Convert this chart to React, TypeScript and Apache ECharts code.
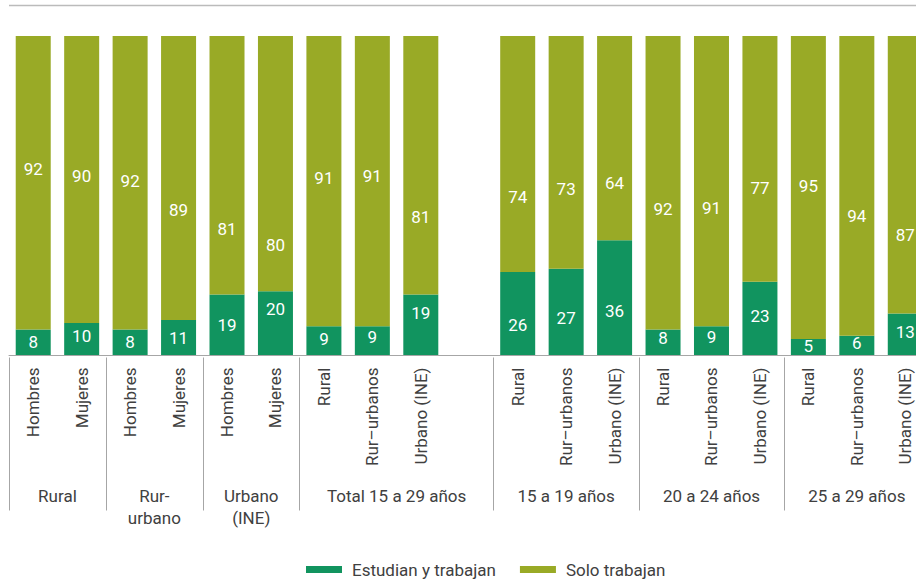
import React, { useEffect, useRef } from "react";
import * as echarts from "echarts";

// ---- data ----
const categories: string[] = [
  "Hombres", "Mujeres",
  "Hombres", "Mujeres",
  "Hombres", "Mujeres",
  "Rural", "Rur–urbanos", "Urbano (INE)",
  "",
  "Rural", "Rur–urbanos", "Urbano (INE)",
  "Rural", "Rur–urbanos", "Urbano (INE)",
  "Rural", "Rur–urbanos", "Urbano (INE)",
];
const groupNames: string[] = ["Rural", "Rur-\nurbano", "Urbano\n(INE)", "Total 15 a 29 años", "15 a 19 años", "20 a 24 años", "25 a 29 años"];
const groupStarts: number[] = [0, 2, 4, 6, 10, 13, 16];
const groupEnds: number[] = [2, 4, 6, 10, 13, 16, 19];
const seriesNames: string[] = ["Estudian y trabajan", "Solo trabajan"];
const estudianTrabajan: (number | null)[] = [8, 10, 8, 11, 19, 20, 9, 9, 19, null, 26, 27, 36, 8, 9, 23, 5, 6, 13];
const soloTrabajan: (number | null)[] = [92, 90, 92, 89, 81, 80, 91, 91, 81, null, 74, 73, 64, 92, 91, 77, 95, 94, 87];

// label nudges (style only, px)
const greenLabelDy: number[] = [0, -3, 0, 1, 0, -14, -2, -4, -12, 0, 11.5, 6, 13.5, -4.5, -4, -2.5, -1, -2, -2.5];
const oliveLabelDy: number[] = [-13.4, -3.6, -1.7, 32, 63.8, 81.4, -2.9, -5, 51.5, 0, 42.7, 36.9, 44.6, 26.6, 27.1, 28.9, -1.5, 30, 60.2];

const GREEN = "#11945f";
const OLIVE = "#99aa26";
const TEXT = "#404040";
const LINE = "#a6a6a6";
const FONT = "Roboto";

export default function App() {
  const ref = useRef<HTMLDivElement>(null);
  useEffect(() => {
    if (!ref.current) return;
    const chart = echarts.init(ref.current, null, { renderer: "svg" });

    const nPts = categories.length * 2 + 1;
    const groupAxisData: string[] = [];
    for (let i = 0; i < nPts; i++) groupAxisData.push("");
    groupNames.forEach((g, i) => {
      groupAxisData[groupStarts[i] + groupEnds[i]] = g;
    });
    const tickPts = new Set(groupStarts.map((s) => s * 2));

    const mk = (vals: (number | null)[], dys: number[]) =>
      vals.map((v, i) =>
        v == null ? "-" : { value: v, label: { offset: [0, dys[i]] } }
      );

    const option: any = {
      animation: false,
      textStyle: { fontFamily: FONT },
      grid: { left: 9, top: 36, width: 920.5, height: 319, containLabel: false, outerBoundsMode: "none" },
      legend: {
        data: seriesNames,
        left: 306,
        top: 561,
        padding: 0,
        icon: "rect",
        itemWidth: 36,
        itemHeight: 7,
        itemGap: 24,
        textStyle: { color: TEXT, fontSize: 17, fontFamily: FONT, padding: [0, 0, 0, 5] },
      },
      xAxis: [
        {
          type: "category",
          data: categories,
          position: "bottom",
          offset: 2.5,
          axisLine: { show: true, lineStyle: { color: LINE, width: 1 } },
          axisTick: { show: false },
          axisLabel: {
            interval: 0,
            rotate: 90,
            margin: 10,
            color: TEXT,
            fontSize: 17,
            fontFamily: FONT,
          },
        },
        {
          type: "category",
          data: groupAxisData,
          boundaryGap: false,
          position: "bottom",
          offset: 2.5,
          axisLine: { show: false },
          axisTick: {
            show: true,
            length: 153,
            interval: (idx: number) => tickPts.has(idx),
            lineStyle: { color: LINE, width: 1 },
          },
          axisLabel: {
            interval: 0,
            margin: 127,
            color: TEXT,
            fontSize: 17,
            lineHeight: 22,
            fontFamily: FONT,
          },
        },
      ],
      yAxis: { type: "value", min: 0, max: 100, show: false },
      series: [
        {
          name: seriesNames[0],
          type: "bar",
          stack: "t",
          barWidth: 35,
          xAxisIndex: 0,
          itemStyle: { color: GREEN },
          label: { show: true, position: "inside", color: "#fff", fontSize: 17, fontFamily: FONT },
          data: mk(estudianTrabajan, greenLabelDy),
        },
        {
          name: seriesNames[1],
          type: "bar",
          stack: "t",
          barWidth: 35,
          xAxisIndex: 0,
          itemStyle: { color: OLIVE },
          label: { show: true, position: "inside", color: "#fff", fontSize: 17, fontFamily: FONT },
          data: mk(soloTrabajan, oliveLabelDy),
        },
      ],
      graphic: [
        {
          type: "line",
          shape: { x1: 9, y1: 5.5, x2: 916, y2: 5.5 },
          style: { stroke: "#bbbbbb", lineWidth: 1.5 },
          silent: true,
        },
      ],
    };
    chart.setOption(option);
    return () => chart.dispose();
  }, []);
  return (
    <div
      ref={ref}
      style={{ position: "absolute", left: 0, top: 0, width: 916, height: 583, background: "#fff" }}
    />
  );
}
